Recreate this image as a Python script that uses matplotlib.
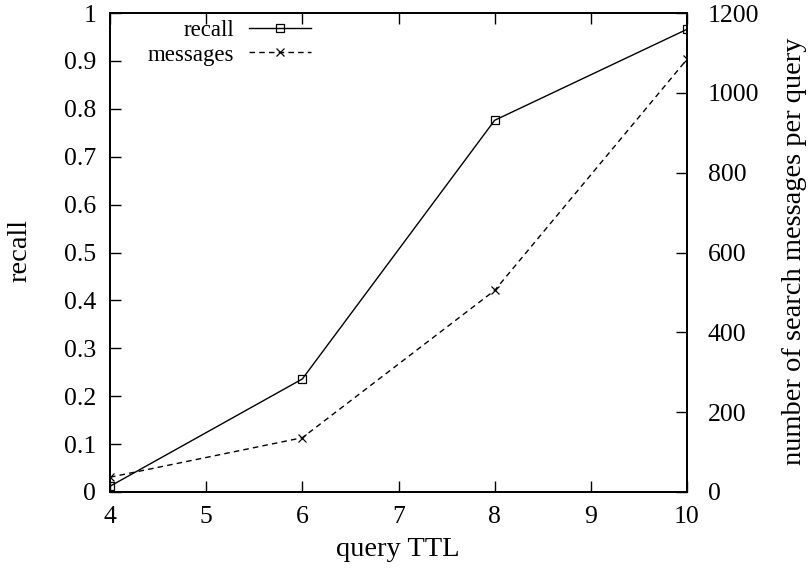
import matplotlib
matplotlib.use("Agg")
import matplotlib.pyplot as plt

ttl = [4, 6, 8, 10]
recall = [0.012, 0.236, 0.776, 0.966]
messages = [37, 136, 505, 1084]

plt.rcParams['font.family'] = ['Liberation Serif', 'DejaVu Serif']
plt.rcParams['mathtext.fontset'] = 'stix'

W, H = 812, 568
fig = plt.figure(figsize=(W/100, H/100), dpi=100)
ax = fig.add_axes([110/W, 76/H, (687-110)/W, (492-13)/H])
ax2 = ax.twinx()

l1, = ax.plot(ttl, recall, color='black', lw=1.0, marker='s', ms=6,
              mfc='none', mec='black', mew=0.9, label='recall')
l2, = ax2.plot(ttl, messages, color='black', lw=1.0, ls=(0, (4, 3)), marker='x', ms=6,
               mew=0.9, label='messages')

ax.set_xlim(4, 10)
ax.set_ylim(0, 1)
ax2.set_ylim(0, 1200)
ax.set_xticks([4, 5, 6, 7, 8, 9, 10])
ax.set_yticks([0, 0.1, 0.2, 0.3, 0.4, 0.5, 0.6, 0.7, 0.8, 0.9, 1])
ax.set_yticklabels(['0', '0.1', '0.2', '0.3', '0.4', '0.5', '0.6', '0.7', '0.8', '0.9', '1'])
ax2.set_yticks([0, 200, 400, 600, 800, 1000, 1200])

ax.tick_params(axis='x', direction='in', length=8, width=1, top=True, labelsize=18.5, pad=10)
ax.tick_params(axis='y', direction='in', length=8, width=1, left=True, right=False, labelsize=18.5, pad=10)
ax2.tick_params(axis='y', direction='in', length=8, width=1, right=True, labelsize=18.5, pad=15)

for a in (ax, ax2):
    for s in a.spines.values():
        s.set_linewidth(1.3)

ax.set_xlabel('query TTL', fontsize=20.5)
ax.set_ylabel('recall', fontsize=20.5)
ax2.set_ylabel('number of search messages per query', fontsize=20.5)

for lab in (ax.xaxis.label, ax.yaxis.label, ax2.yaxis.label):
    lab.set_rotation_mode('anchor')
    lab.set_ha('center')
    lab.set_va('center')
ax.xaxis.set_label_coords(398/W, 1-549/H, transform=fig.transFigure)
ax.yaxis.set_label_coords(20/W, 1-251/H, transform=fig.transFigure)
ax2.yaxis.set_label_coords(795/W, 1-251/H, transform=fig.transFigure)

leg = ax2.legend(handles=[l1, l2], loc='upper left',
                 bbox_to_anchor=((148-110)/577, (492-20)/479),
                 frameon=False, markerfirst=False, fontsize=16.5, handlelength=2.7,
                 handletextpad=0.65, labelspacing=0.15, borderaxespad=0, borderpad=0)
for t in leg.get_texts():
    t.set_ha('right')
leg._legend_box.align = 'right'

fig.savefig('out.png', dpi=100)
